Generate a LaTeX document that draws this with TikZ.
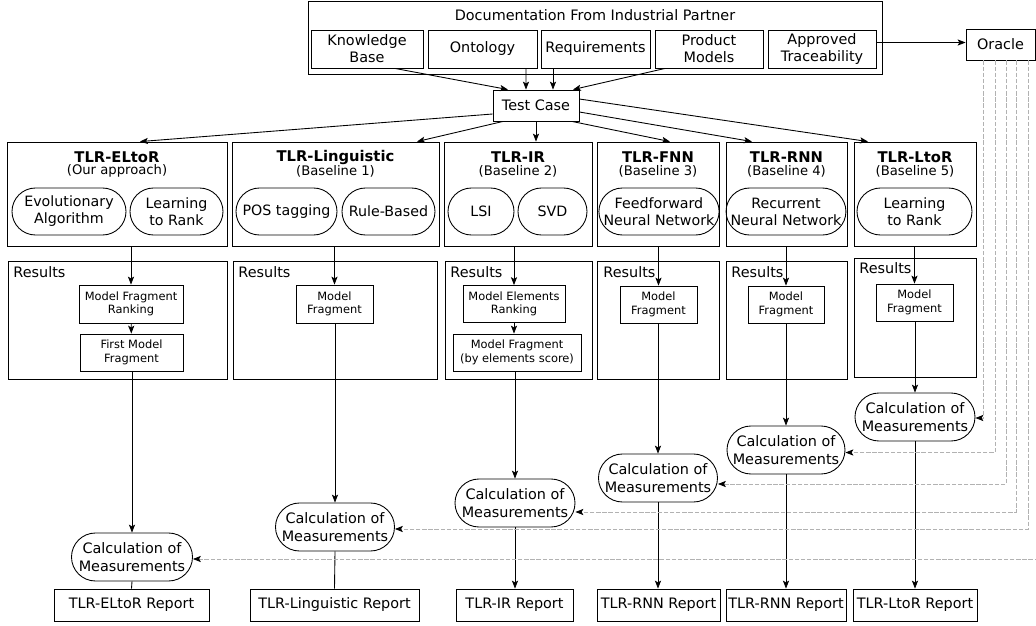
\documentclass[tikz,border=0pt]{standalone}
\usepackage{fontspec}
\setmainfont{DejaVu Sans}
\usetikzlibrary{calc,shapes.misc,arrows.meta}

\begin{document}
\begin{tikzpicture}[x=0.02cm, y=-0.02cm, line width=0.5pt,
    dims/.style 2 args={minimum width=#1*0.02cm, minimum height=#2*0.02cm},
    box/.style={draw, rectangle, inner sep=0pt, align=center, font=\fontsize{8.2}{9.7}\selectfont},
    smallbox/.style={box, font=\fontsize{6.5}{7.6}\selectfont},
    pill/.style={draw, rounded rectangle, inner sep=0pt, align=center, font=\fontsize{8.1}{9.7}\selectfont},
    measure/.style={pill, font=\fontsize{8.2}{10}\selectfont},
    plain/.style={inner sep=0pt, font=\fontsize{8.2}{9.7}\selectfont},
    title/.style={inner sep=0pt, font=\fontsize{8.4}{10}\selectfont\bfseries},
    subtitle/.style={inner sep=0pt, font=\fontsize{7.5}{8.5}\selectfont},
    arr/.style={-{Stealth[length=4.5pt, width=3.5pt, inset=1pt]}},
    oracleline/.style={-{Stealth[length=4.5pt, width=3.5pt, inset=1pt, black]}, draw=gray!60, dash pattern=on 2.5pt off 1pt, line width=0.45pt}]

  \useasboundingbox (0,0) rectangle (1036,626);

  % documentation from the partner
  \node[box, dims={574}{73}] (doc) at (595,37.5) {};
  \node[plain] (doctitle) at (595,15) {Documentation From Industrial Partner};
  \node[box, dims={112}{38}] (kb)   at (367,49)   {Knowledge\\Base};
  \node[box, dims={109}{38}] (onto) at (482.5,49) {Ontology};
  \node[box, dims={109}{38}] (req)  at (595.5,49) {Requirements};
  \node[box, dims={108}{38}] (prod) at (709,49)   {Product\\Models};
  \node[box, dims={108}{38}] (appr) at (822,49)   {Approved\\Traceability};

  \node[box, dims={69}{31}] (oracle) at (1000.5,44.5) {Oracle};
  \node[box, dims={86}{31}] (tc) at (536,105.5) {Test Case};

  % approaches
  \node[box, dims={220}{104}] (m1) at (117,194)   {};
  \node[box, dims={207}{104}] (m2) at (335.5,194) {};
  \node[box, dims={148}{104}] (m3) at (518,194)   {};
  \node[box, dims={122}{104}] (m4) at (658,194)   {};
  \node[box, dims={121}{104}] (m5) at (786.5,194) {};
  \node[box, dims={122}{104}] (m6) at (915,194)   {};

  \node[title] (t1) at (117,157)   {TLR-ELtoR};
  \node[title] (t2) at (335.5,157) {TLR-Linguistic};
  \node[title] (t3) at (518,157)   {TLR-IR};
  \node[title] (t4) at (658,157)   {TLR-FNN};
  \node[title] (t5) at (786.5,157) {TLR-RNN};
  \node[title] (t6) at (915,157)   {TLR-LtoR};

  \node[subtitle] (s1) at (117,171)   {(Our approach)};
  \node[subtitle] (s2) at (335.5,171) {(Baseline 1)};
  \node[subtitle] (s3) at (518,171)   {(Baseline 2)};
  \node[subtitle] (s4) at (658,171)   {(Baseline 3)};
  \node[subtitle] (s5) at (786.5,171) {(Baseline 4)};
  \node[subtitle] (s6) at (915,171)   {(Baseline 5)};

  \node[pill, dims={114}{47}] (e1a) at (69,211.5)    {Evolutionary\\Algorithm};
  \node[pill, dims={93}{47}]  (e1b) at (176.5,211.5) {Learning\\to Rank};
  \node[pill, dims={101}{47}] (e2a) at (286.5,211.5) {POS tagging};
  \node[pill, dims={93}{47}]  (e2b) at (388.5,211.5) {Rule-Based};
  \node[pill, dims={66}{47}]  (e3a) at (481,211.5)   {LSI};
  \node[pill, dims={69}{47}]  (e3b) at (552.5,211.5) {SVD};
  \node[pill, dims={114}{47}] (e4)  at (659,211.5)   {Feedforward\\Neural Network};
  \node[pill, dims={114}{47}] (e5)  at (786,211.5)   {Recurrent\\Neural Network};
  \node[pill, dims={115}{47}] (e6)  at (914.5,211.5) {Learning\\to Rank};

  % results
  \node[box, dims={219}{118}] (r1) at (117.5,320) {};
  \node[box, dims={204}{118}] (r2) at (335,320)   {};
  \node[box, dims={147}{118}] (r3) at (518.5,320) {};
  \node[box, dims={122}{118}] (r4) at (658,320)   {};
  \node[box, dims={121}{118}] (r5) at (786.5,320) {};
  \node[box, dims={122}{119}] (r6) at (915,317.5) {};

  \node[plain, anchor=west] (l1) at (13,272)  {Results};
  \node[plain, anchor=west] (l2) at (238,272) {Results};
  \node[plain, anchor=west] (l3) at (450,272) {Results};
  \node[plain, anchor=west] (l4) at (603,272) {Results};
  \node[plain, anchor=west] (l5) at (731,272) {Results};
  \node[plain, anchor=west] (l6) at (859,268) {Results};

  \node[smallbox, dims={104}{38}] (f1a) at (131,304)     {Model Fragment\\Ranking};
  \node[smallbox, dims={103}{37}] (f1b) at (131.5,352.5) {First Model\\Fragment};
  \node[smallbox, dims={77}{38}]  (f2)  at (334.5,304)   {Model\\Fragment};
  \node[smallbox, dims={102}{37}] (f3a) at (514,304)     {Model Elements\\Ranking};
  \node[smallbox, dims={128}{37}] (f3b) at (517,352.5)   {Model Fragment\\(by elements score)};
  \node[smallbox, dims={77}{37}]  (f4)  at (658.5,304.5) {Model\\Fragment};
  \node[smallbox, dims={76}{37}]  (f5)  at (786,304.5)   {Model\\Fragment};
  \node[smallbox, dims={77}{37}]  (f6)  at (914.5,302.5) {Model\\Fragment};

  % measurements and reports
  \node[measure, dims={121}{48}] (c1) at (132,557) {Calculation of\\Measurements};
  \node[measure, dims={119}{48}] (c2) at (335,527) {Calculation of\\Measurements};
  \node[measure, dims={120}{48}] (c3) at (515,503) {Calculation of\\Measurements};
  \node[measure, dims={119}{48}] (c4) at (658,478) {Calculation of\\Measurements};
  \node[measure, dims={118}{48}] (c5) at (786,450) {Calculation of\\Measurements};
  \node[measure, dims={120}{48}] (c6) at (915,417) {Calculation of\\Measurements};

  \node[box, dims={155}{32}] (p1) at (131.5,605) {TLR-ELtoR Report};
  \node[box, dims={169}{32}] (p2) at (334.5,605) {TLR-Linguistic Report};
  \node[box, dims={117}{32}] (p3) at (514.5,605) {TLR-IR Report};
  \node[box, dims={123}{32}] (p4) at (658.5,605) {TLR-RNN Report};
  \node[box, dims={120}{32}] (p5) at (786,605)   {TLR-RNN Report};
  \node[box, dims={124}{32}] (p6) at (915,605)   {TLR-LtoR Report};

  \draw[arr] ($(kb.south)+(28,0)$) -- ($(tc.north)+(-28,0)$);
  \draw[arr] ($(onto.south)+(43.5,0)$) -- ($(tc.north)+(-10,0)$);
  \draw[arr] ($(req.south)+(-42.5,0)$) -- ($(tc.north)+(17,0)$);
  \draw[arr] ($(prod.south)+(-44,0)$) -- ($(tc.north)+(37,0)$);
  \draw[arr] ($(appr.east)+(0,-6.5)$) -- ($(oracle.west)+(0,-2)$);

  \draw[arr] ($(tc.west)+(0,8.5)$) -- ($(m1.north)+(23,0)$);
  \draw[arr] ($(tc.south)+(-33,0)$) -- ($(m2.north)+(81.5,0)$);
  \draw[arr] (tc.south) -- (tc.south |- m3.north);
  \draw[arr] ($(tc.south)+(36,0)$) -- ($(m4.north)+(12,0)$);
  \draw[arr] ($(tc.east)+(0,6.5)$) -- ($(m5.north)+(-34.5,0)$);
  \draw[arr] ($(tc.east)+(0,-6.5)$) -- ($(m6.north)+(-47,0)$);

  \draw[arr] (m1.south -| f1a.north) -- (f1a.north);
  \draw[arr] (f1a) -- (f1b);
  \draw[arr] (m2.south -| f2.north) -- (f2.north);
  \draw[arr] (m3.south -| f3a.north) -- (f3a.north);
  \draw[arr] (f3a.south) -- (f3a.south |- f3b.north);
  \draw[arr] (m4.south -| f4.north) -- (f4.north);
  \draw[arr] (m5.south -| f5.north) -- (f5.north);
  \draw[arr] (m6.south -| f6.north) -- (f6.north);

  \draw[arr] (f1b.south -| c1.north) -- (c1.north);
  \draw[arr] (f2.south -| c2.north) -- (c2.north);
  \draw[arr] (f3b.south -| c3.north) -- (c3.north);
  \draw[arr] (f4.south -| c4.north) -- (c4.north);
  \draw[arr] (f5.south -| c5.north) -- (c5.north);
  \draw[arr] (f6.south -| c6.north) -- (c6.north);

  \draw (c1.south) -- (p1.north);
  \draw (c2.south) -- (p2.north);
  \draw[arr] (c3.south) -- (c3.south |- p3.north);
  \draw[arr] (c4.south) -- (c4.south |- p4.north);
  \draw[arr] (c5.south) -- (c5.south |- p5.north);
  \draw[arr] (c6.south) -- (c6.south |- p6.north);

  % oracle feeds the measurements
  \draw[oracleline] ($(oracle.south)+(-17.5,0)$) |- ($(c6.east)+(0,1)$);
  \draw[oracleline] ($(oracle.south)+(-5.5,0)$) |- ($(c5.east)+(0,2.5)$);
  \draw[oracleline] ($(oracle.south)+(5.5,0)$) |- ($(c4.east)+(0,6)$);
  \draw[oracleline] ($(oracle.south)+(15.5,0)$) |- ($(c3.east)+(0,9)$);
  \draw[oracleline] ($(oracle.south)+(27.5,0)$) |- ($(c2.east)+(0,2)$);
  \draw[oracleline] ($(oracle.south)+(38,0)$) |- ($(c1.east)+(0,2)$);
\end{tikzpicture}
\end{document}
